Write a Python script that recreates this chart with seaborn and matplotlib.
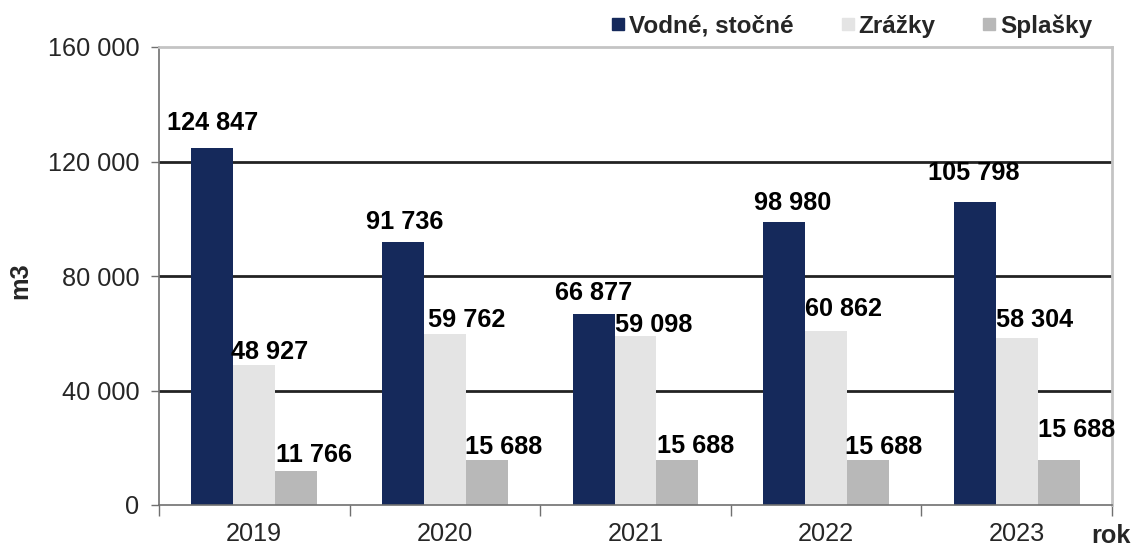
import matplotlib
matplotlib.use("Agg")
import matplotlib.pyplot as plt
from matplotlib.lines import Line2D
import seaborn as sns
import pandas as pd

# Annual volumes (m3)
years = ["2019", "2020", "2021", "2022", "2023"]
series = ["Vodné, stočné", "Zrážky", "Splašky"]
vodne_stocne = [124847, 91736, 66877, 98980, 105798]
zrazky = [48927, 59762, 59098, 60862, 58304]
splasky = [11766, 15688, 15688, 15688, 15688]
y_ticks = [0, 40000, 80000, 120000, 160000]

colors = {"Vodné, stočné": "#15295B", "Zrážky": "#E4E4E4", "Splašky": "#B8B8B8"}

# label nudges (pixels: right, up) relative to the top centre of each bar
label_nudge = {
    "Vodné, stočné": [(0, 25), (2, 20), (0, 21), (8, 19), (-1, 29)],
    "Zrážky": [(15, 13), (22, 14), (18, 11), (17, 22), (18, 18)],
    "Splašky": [(18, 16), (17, 13), (18, 14), (16, 13), (18, 30)],
}

df = pd.DataFrame({
    "rok": years * 3,
    "serie": [s for s in series for _ in years],
    "m3": vodne_stocne + zrazky + splasky,
})

sns.set_theme(style="white")
plt.rcParams["font.family"] = ["Liberation Sans", "DejaVu Sans"]
FS = 18.2

W, H = 1143, 547
fig = plt.figure(figsize=(W / 100, H / 100), dpi=100)
ax = fig.add_axes([159 / W, (H - 505) / H, 953 / W, 458 / H])

sns.barplot(data=df, x="rok", y="m3", hue="serie", hue_order=series,
            order=years, palette=colors, width=0.66, gap=0,
            saturation=1, legend=False, ax=ax, errorbar=None,
            linewidth=0)

ax.set_ylim(0, 160000)
ax.set_xlim(-0.5, len(years) - 0.5)

def fmt(v):
    return f"{int(v):,}".replace(",", " ")

# value labels
for container, name in zip(ax.containers, series):
    for bar, (dx, dy) in zip(container, label_nudge[name]):
        h = bar.get_height()
        ax.annotate(fmt(h), (bar.get_x() + bar.get_width() / 2, h),
                    xytext=(dx, dy), textcoords="offset pixels",
                    ha="center", va="center", fontsize=FS,
                    fontweight="bold", color="black", zorder=5)

# y axis
ax.set_yticks(y_ticks)
ax.set_yticklabels([fmt(t) for t in y_ticks], fontsize=FS)
ax.tick_params(axis="y", direction="out", length=6, width=1, color="#707070",
               pad=8, left=True)
for t in y_ticks[1:-1]:
    ax.axhline(t, color="#222222", lw=2, zorder=0.5)

# x axis: labels at category centres, tick marks at boundaries
ax.set_xticks([i + 0.5 for i in range(-1, len(years))])
ax.set_xticklabels([])
ax.set_xticks(range(len(years)), minor=True)
ax.set_xticklabels(years, minor=True, fontsize=FS)
ax.tick_params(axis="x", which="major", direction="out", length=8, width=1,
               color="#707070", bottom=True)
ax.tick_params(axis="x", which="minor", length=0, pad=12.5)

for side in ("left", "bottom"):
    ax.spines[side].set_color("#707070")
    ax.spines[side].set_linewidth(1.2)
for side in ("top", "right"):
    ax.spines[side].set_color("#C4C4C4")
    ax.spines[side].set_linewidth(2)

ax.set_xlabel("")
ax.set_ylabel("")
fig.text(20 / W, 1 - 281 / H, "m3", rotation=90, ha="center", va="center",
         fontsize=FS, fontweight="bold")
fig.text(1111 / W, 1 - 536 / H, "rok", ha="center", va="center",
         fontsize=FS, fontweight="bold")

handles = [Line2D([], [], marker="s", linestyle="none", markersize=9,
                  markerfacecolor=colors[s], markeredgecolor=colors[s])
           for s in series]
leg = fig.legend(handles, series, loc="center right", ncol=3,
                 bbox_to_anchor=(1092 / W, 1 - 26 / H), frameon=False,
                 handlelength=0.6, handletextpad=0.15, columnspacing=1.9,
                 borderaxespad=0, borderpad=0,
                 prop={"size": 17.5, "weight": "bold"})

fig.savefig("out.png", dpi=100, facecolor="white")
